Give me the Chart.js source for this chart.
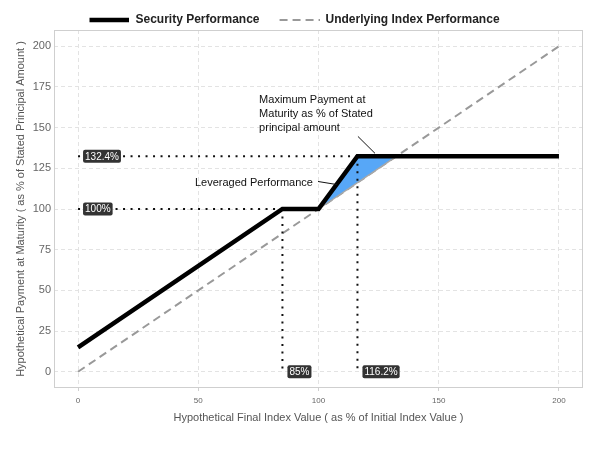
<!DOCTYPE html>
<html>
<head>
<meta charset="utf-8">
<script src="https://cdn.jsdelivr.net/npm/chart.js@4.4.1/dist/chart.umd.min.js"></script>
<style>
  html, body { margin: 0; padding: 0; background: #fff; }
  #wrap { width: 600px; height: 450px; }
</style>
</head>
<body>
<div id="wrap"><canvas id="payoffChart"></canvas></div>
<script>
// payoff data
const xTicks = [0, 50, 100, 150, 200];
const yTicks = [0, 25, 50, 75, 100, 125, 150, 175, 200];
const securityX = [0, 85, 100, 116.2, 200];
const securityY = [15, 100, 100, 132.4, 132.4];
const indexX = [0, 200];
const indexY = [0, 200];
const leverageX = [100, 116.2, 132.4];
const leverageY = [100, 132.4, 132.4];
const leverageBaseX = [100, 132.4];
const leverageBaseY = [100, 132.4];
const strikes = [85, 116.2];
const levels = [100, 132.4];

const toPoints = (xs, ys) => xs.map((v, i) => ({ x: v, y: ys[i] }));
const font = 'Liberation Sans, Arial, sans-serif';

const dotted = {
  borderColor: '#111',
  borderWidth: 2,
  borderDash: [2, 5.5],
  pointRadius: 0,
  fill: false
};

const guideSets = [];
strikes.forEach((s, i) => {
  guideSets.push(Object.assign({ label: 'h' + i, data: [{ x: 0, y: levels[i] }, { x: s, y: levels[i] }] }, dotted));
  guideSets.push(Object.assign({ label: 'v' + i, data: [{ x: s, y: levels[i] }, { x: s, y: 0 }] }, dotted));
});

// legend swatches: small canvases, blank on the left for item spacing
function swatch(color, width, dash) {
  const c = document.createElement('canvas');
  c.width = 46;
  c.height = 6;
  const g = c.getContext('2d');
  g.strokeStyle = color;
  g.lineWidth = width;
  g.setLineDash(dash);
  g.beginPath();
  g.moveTo(6, 3);
  g.lineTo(46, 3);
  g.stroke();
  return c;
}

function tagBox(ctx, px, py, text) {
  ctx.font = '10px ' + font;
  const w = ctx.measureText(text).width + 4;
  const h = 13;
  ctx.fillStyle = '#333';
  ctx.beginPath();
  ctx.roundRect(px, py - h / 2, w, h, 2);
  ctx.fill();
  ctx.fillStyle = '#fff';
  ctx.textAlign = 'left';
  ctx.textBaseline = 'middle';
  ctx.fillText(text, px + 2, py + 0.5);
}

const notes = {
  id: 'notes',
  beforeLayout(chart) {
    const lg = chart.legend;
    if (lg && !lg._fixed) {
      const fit = lg.fit.bind(lg);
      lg.fit = function () { fit(); this.height = 30; };
      lg._fixed = true;
    }
  },
  beforeDatasetsDraw(chart) {
    const { ctx, chartArea: a } = chart;
    ctx.save();
    ctx.strokeStyle = '#cfcfcf';
    ctx.lineWidth = 1;
    ctx.strokeRect(a.left + 0.5, a.top + 0.5, a.right - a.left - 1, a.bottom - a.top - 1);
    ctx.restore();
  },
  afterDatasetsDraw(chart) {
    const { ctx, scales: { x, y } } = chart;
    ctx.save();
    levels.forEach(v => tagBox(ctx, x.getPixelForValue(0) + 5, y.getPixelForValue(v), v + '%'));
    strikes.forEach(v => tagBox(ctx, x.getPixelForValue(v) + 5, y.getPixelForValue(0), v + '%'));

    ctx.fillStyle = '#111';
    ctx.font = '11px ' + font;
    ctx.textBaseline = 'middle';
    ctx.textAlign = 'left';
    const lines = ['Maximum Payment at', 'Maturity as % of Stated', 'principal amount'];
    lines.forEach((t, i) => ctx.fillText(t, x.getPixelForValue(75.3), y.getPixelForValue(167) + i * 14));
    ctx.textAlign = 'right';
    ctx.fillText('Leveraged Performance', x.getPixelForValue(97.7), y.getPixelForValue(116.3));

    ctx.strokeStyle = '#111';
    ctx.lineWidth = 1;
    ctx.beginPath();
    ctx.moveTo(x.getPixelForValue(116.4), y.getPixelForValue(144.6));
    ctx.lineTo(x.getPixelForValue(123.5), y.getPixelForValue(134.2));
    ctx.moveTo(x.getPixelForValue(99.8), y.getPixelForValue(116.9));
    ctx.lineTo(x.getPixelForValue(107.7), y.getPixelForValue(115.0));
    ctx.stroke();
    ctx.restore();
  }
};

const secSwatch = swatch('#000', 4.5, []);
const idxSwatch = swatch('#999', 2, [8, 5]);

new Chart(document.getElementById('payoffChart'), {
  type: 'line',
  data: {
    datasets: [
      {
        label: 'Security Performance',
        data: toPoints(securityX, securityY),
        borderColor: '#000',
        backgroundColor: '#000',
        borderWidth: 4.5,
        borderJoinStyle: 'miter',
        pointRadius: 0,
        fill: false
      },
      ...guideSets,
      {
        label: 'leverageBase',
        data: toPoints(leverageBaseX, leverageBaseY),
        borderWidth: 1.5,
        borderColor: '#a8a8a8',
        pointRadius: 0,
        fill: false
      },
      {
        label: 'leverage',
        data: toPoints(leverageX, leverageY),
        borderWidth: 0,
        borderColor: 'rgba(0,0,0,0)',
        backgroundColor: '#57A7F7',
        pointRadius: 0,
        fill: '-1'
      },
      {
        label: 'Underlying Index Performance',
        data: toPoints(indexX, indexY),
        borderColor: '#999',
        backgroundColor: '#999',
        borderWidth: 2,
        borderDash: [8, 5],
        pointRadius: 0,
        fill: false
      }
    ]
  },
  options: {
    responsive: true,
    maintainAspectRatio: false,
    animation: false,
    layout: { padding: { top: 0, right: 17, bottom: 0, left: 0 } },
    scales: {
      x: {
        type: 'linear',
        min: -10,
        max: 210,
        afterBuildTicks: s => { s.ticks = xTicks.map(v => ({ value: v })); },
        afterFit: s => { s.height = 62; },
        border: { display: false, dash: [4, 3] },
        grid: { color: '#e3e3e3', tickLength: 3, tickColor: '#cfcfcf', tickBorderDash: [] },
        ticks: { color: '#666', font: { family: font, size: 8 }, padding: 5 },
        title: {
          display: true,
          text: 'Hypothetical Final Index Value ( as % of Initial Index Value )',
          color: '#555',
          font: { family: font, size: 11 },
          padding: { top: 4, bottom: 25 }
        }
      },
      y: {
        min: -10,
        max: 210,
        afterBuildTicks: s => { s.ticks = yTicks.map(v => ({ value: v })); },
        afterFit: s => { s.width = 54; },
        border: { display: false, dash: [4, 3] },
        grid: { color: '#e3e3e3', drawTicks: false },
        ticks: { color: '#666', font: { family: font, size: 11 }, padding: 3 },
        title: {
          display: true,
          text: 'Hypothetical Payment at Maturity ( as % of Stated Principal Amount )',
          color: '#555',
          font: { family: font, size: 11 },
          padding: { top: 14, bottom: 0 }
        }
      }
    },
    plugins: {
      tooltip: { enabled: false },
      legend: {
        position: 'top',
        labels: {
          usePointStyle: true,
          pointStyleWidth: 46,
          color: '#222',
          font: { family: font, size: 12, weight: 'bold' },
          padding: 14,
          generateLabels: chart => [
            { text: 'Security Performance', pointStyle: secSwatch, fontColor: '#222', lineWidth: 0, datasetIndex: 0 },
            { text: 'Underlying Index Performance', pointStyle: idxSwatch, fontColor: '#222', lineWidth: 0, datasetIndex: 7 }
          ]
        }
      }
    }
  },
  plugins: [notes]
});
</script>
</body>
</html>
